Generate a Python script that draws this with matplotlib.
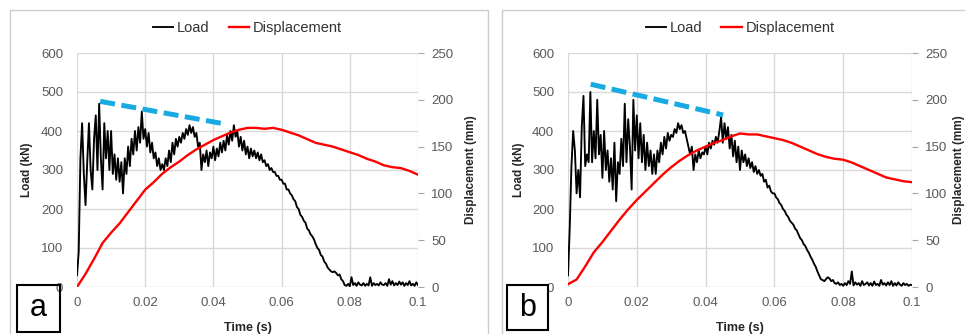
import matplotlib
matplotlib.use("Agg")
import matplotlib.pyplot as plt
import matplotlib.patches as patches
import numpy as np

plt.rcParams["font.family"] = ["Liberation Sans", "DejaVu Sans"]

# Load (kN) sampled every 0.5 ms from 0 to 100 ms
LOAD_A = [
    30, 90, 330, 420, 290, 210, 320, 420, 300, 250,
    380, 440, 300, 470, 330, 250, 420, 330, 400, 300,
    400, 290, 340, 275, 330, 270, 320, 240, 330, 290,
    360, 310, 380, 340, 400, 350, 410, 370, 450, 380,
    405, 360, 395, 345, 370, 330, 345, 310, 330, 300,
    315, 300, 330, 310, 350, 320, 370, 340, 380, 360,
    385, 370, 395, 380, 405, 390, 415, 395, 410, 385,
    395, 360, 370, 300, 340, 320, 350, 310, 345, 330,
    360, 325, 355, 335, 370, 345, 375, 350, 390, 365,
    400, 375, 415, 385, 400, 360, 385, 350, 375, 340,
    360, 330, 355, 335, 350, 330, 345, 325, 340, 320,
    325, 310, 315, 300, 305, 295, 295, 285, 285, 275,
    275, 265, 265, 250, 250, 240, 235, 225, 220, 205,
    200, 185, 180, 170, 165, 150, 145, 135, 130, 122,
    110, 100, 95, 82, 78, 65, 60, 50, 45, 40,
    38, 40, 36, 30, 32, 20, 15, 5, 3, 8,
    2, 25, 5, 10, 3, 12, 6, 4, 10, 3,
    8, 4, 25, 3, 10, 5, 8, 4, 12, 6,
    5, 10, 3, 20, 6, 15, 4, 10, 5, 14,
    6, 12, 3, 10, 5, 15, 4, 8, 3, 12,
    5,
]
LOAD_B = [
    30, 150, 310, 400, 350, 240, 300, 230, 410, 490,
    310, 340, 320, 500, 320, 400, 330, 480, 340, 390,
    280, 400, 300, 350, 270, 330, 250, 370, 220, 320,
    290, 380, 310, 470, 320, 430, 360, 250, 480, 350,
    440, 330, 420, 320, 390, 300, 370, 310, 350, 290,
    340, 290, 350, 320, 370, 340, 385, 355, 395, 375,
    390, 385, 405, 395, 420, 405, 415, 395, 400, 380,
    360, 340, 360, 300, 340, 320, 350, 330, 345, 340,
    360, 340, 370, 355, 375, 365, 385, 370, 400, 435,
    370, 420, 380, 410, 355, 390, 335, 375, 320, 360,
    300, 350, 320, 340, 310, 330, 305, 320, 295, 310,
    290, 300, 285, 290, 270, 275, 255, 260, 245, 240,
    240, 230, 225, 215, 210, 200, 195, 185, 180, 170,
    165, 160, 150, 145, 135, 125, 120, 110, 105, 95,
    88, 78, 70, 60, 52, 40, 30, 20, 18, 15,
    20, 25, 22, 15, 18, 10, 8, 12, 5, 8,
    3, 10, 5, 15, 8, 40, 4, 12, 6, 10,
    3, 15, 5, 8, 12, 4, 10, 3, 14, 5,
    8, 3, 18, 6, 10, 4, 12, 5, 15, 3,
    10, 4, 12, 6, 3, 10, 5, 8, 3, 6,
    5,
]

# Displacement (mm) sampled every 2.5 ms from 0 to 100 ms
DISP_A = [0, 14, 30, 47, 58, 68, 80, 92, 104, 112,
          121, 128, 134, 141, 147, 152, 157, 161, 165, 168,
          170, 170, 169, 170, 168, 165, 162, 158, 154, 152,
          150, 147, 144, 141, 137, 134, 130, 128, 127, 124,
          120]
DISP_B = [3, 8, 22, 37, 48, 60, 72, 83, 93, 102,
          111, 120, 128, 135, 141, 146, 150, 154, 157, 161,
          164, 163, 163, 161, 159, 157, 154, 150, 146, 142,
          139, 137, 136, 133, 129, 125, 121, 117, 115, 113,
          112]

# Dashed trend lines over the load peaks
TREND_A_T = [0.0068, 0.0434]
TREND_A_LOAD = [476, 418]
TREND_B_T = [0.0066, 0.0451]
TREND_B_LOAD = [520, 441]

XTICKS = [0, 0.02, 0.04, 0.06, 0.08, 0.1]
XLABELS = ["0", "0.02", "0.04", "0.06", "0.08", "0.1"]
LOAD_TICKS = [0, 100, 200, 300, 400, 500, 600]
DISP_TICKS = [0, 50, 100, 150, 200, 250]

W, H = 965.0, 334.0
TICK_COLOR = "#595959"
GRID_COLOR = "#d9d9d9"

figure = plt.figure(figsize=(W / 100, H / 100), dpi=100)


def fx(px):
    return px / W


def fy(py):
    return 1 - py / H


def panel(left, right, letter, box, load, disp, trend_t, trend_load, ylab_x, dlab_x):
    ax = figure.add_axes([fx(left), fy(287), fx(right - left), (287 - 53) / H])
    t_load = np.arange(len(load)) * 0.0005
    t_disp = np.arange(len(disp)) * 0.0025

    ax.set_xlim(0, 0.1)
    ax.set_ylim(0, 600)
    ax.set_xticks(XTICKS)
    ax.set_xticklabels(XLABELS)
    ax.set_yticks(LOAD_TICKS)
    ax.grid(True, color=GRID_COLOR, linewidth=1.0)
    ax.set_axisbelow(True)
    for s in ax.spines.values():
        s.set_visible(False)
    ax.tick_params(axis="y", length=0, labelsize=9.5, labelcolor=TICK_COLOR, pad=10)
    ax.tick_params(axis="x", length=0, labelsize=9.5, labelcolor=TICK_COLOR, pad=7)
    ax.set_ylabel("Load (kN)", fontsize=8.5, fontweight="bold", color="#262626")
    ax.yaxis.set_label_coords(ylab_x, 0.5)
    ax.set_xlabel("Time (s)", fontsize=9, fontweight="bold", color="#262626")
    ax.xaxis.set_label_coords(0.5, -0.15)

    l1, = ax.plot(t_load, load, color="black", linewidth=1.35, label="Load")
    trend, = ax.plot(trend_t, trend_load, color="#19aae2", linewidth=3.6,
                     solid_capstyle="butt", dash_capstyle="butt")
    trend.set_dashes((3.0, 1.3))

    ax2 = ax.twinx()
    ax2.set_ylim(0, 250)
    ax2.set_yticks(DISP_TICKS)
    for s in ax2.spines.values():
        s.set_visible(False)
    ax2.tick_params(axis="y", length=4, direction="out", color="#a6a6a6",
                    labelsize=9.5, labelcolor=TICK_COLOR, pad=5.5)
    ax2.set_ylabel("Displacement (mm)", fontsize=8.5, fontweight="bold", color="#262626")
    ax2.yaxis.set_label_coords(dlab_x, 0.5)
    l2, = ax2.plot(t_disp, disp, color="#ff0000", linewidth=1.7, label="Displacement")

    ax2.legend(handles=[l1, l2], loc="center", bbox_to_anchor=(0.5, 1.107), ncol=2,
               frameon=False, fontsize=10.5, handlelength=1.4, handletextpad=0.25,
               columnspacing=1.3, labelcolor="#333333")

    # Letter box
    x0, y0, x1, y1 = box
    figure.patches.append(patches.Rectangle((fx(x0), fy(y1)), fx(x1 - x0), (y1 - y0) / H,
                                            transform=figure.transFigure, fill=False,
                                            edgecolor="black", linewidth=1.5, zorder=5))
    figure.text(fx((x0 + x1) / 2), fy((y0 + y1) / 2), letter, fontsize=22,
                ha="center", va="center", color="black", zorder=6)


# Panel frames
figure.patches.append(patches.Rectangle((fx(10), -0.05), fx(478), fy(10) + 0.05,
                                        transform=figure.transFigure, fill=False,
                                        edgecolor="#cccccc", linewidth=1.0))
figure.patches.append(patches.Rectangle((fx(502), -0.05), fx(480), fy(10) + 0.05,
                                        transform=figure.transFigure, fill=False,
                                        edgecolor="#cccccc", linewidth=1.0))

panel(77, 418, "a", (17, 285, 60, 332), LOAD_A, DISP_A, TREND_A_T, TREND_A_LOAD, -0.129, 1.138)
panel(568, 912, "b", (507, 285, 548, 330), LOAD_B, DISP_B, TREND_B_T, TREND_B_LOAD, -0.125, 1.118)

figure.savefig("out.png", dpi=100)
